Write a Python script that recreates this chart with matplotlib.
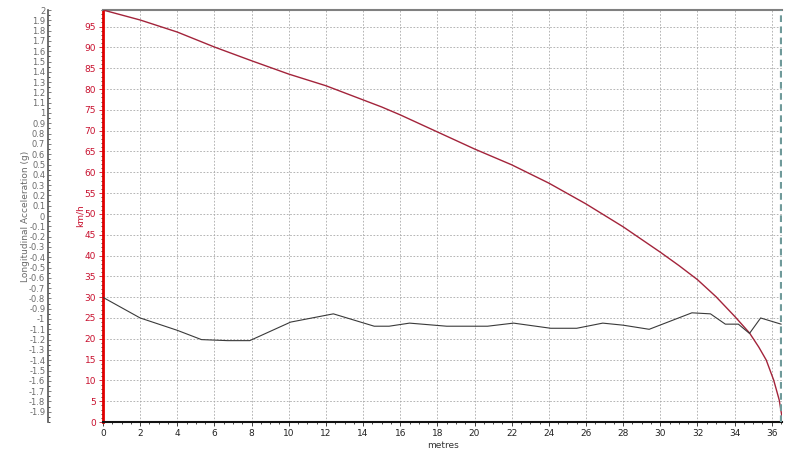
import matplotlib.pyplot as plt
from matplotlib.ticker import MultipleLocator

# --- Data ---
speed_x = [0, 2, 4, 6, 8, 10, 12, 14, 15, 16, 18, 20, 22, 24, 26, 28, 30, 31, 32,
           33, 34, 34.8, 35.3, 35.7, 36.1, 36.4, 36.55]
speed_kmh = [99, 96.6, 93.7, 90.1, 86.8, 83.6, 80.8, 77.4, 75.7, 73.8, 69.7, 65.6, 61.8,
             57.4, 52.4, 46.9, 40.8, 37.6, 34.2, 30.1, 25.4, 21.4, 18.0, 14.9, 10.1, 5.3, 1.2]

acc_x = [0, 2, 4, 5.3, 6.7, 7.9, 10.1, 12.4, 14.6, 15.4, 16.5, 18.5, 20.7, 22.1, 24.1,
         25.5, 26.9, 28.0, 29.4, 31.7, 32.7, 33.5, 34.2, 34.8, 35.4, 36.5]
acc_g = [-0.79, -0.99, -1.11, -1.20, -1.21, -1.21, -1.03, -0.95, -1.07, -1.07, -1.04,
         -1.07, -1.07, -1.04, -1.09, -1.09, -1.04, -1.06, -1.10, -0.94, -0.95, -1.05,
         -1.05, -1.14, -0.99, -1.05]

X_MAX = 36.55
RED = '#c8102e'
TICK_GREY = '#6a6a6a'

fig = plt.figure(figsize=(8, 4.5), dpi=100)
ax = fig.add_axes([103 / 800, 1 - 422 / 450, (782 - 103) / 800, (422 - 10) / 450])

# speed curve on the km/h axis
ax.plot(speed_x, speed_kmh, color='#a3243b', linewidth=1.0, zorder=4)
ax.set_xlim(0, X_MAX)
ax.set_ylim(0, 99)

ax.xaxis.set_major_locator(MultipleLocator(2))
ax.xaxis.set_minor_locator(MultipleLocator(0.5))
ax.yaxis.set_minor_locator(MultipleLocator(1))
ax.set_yticks(range(0, 100, 5))
ax.tick_params(axis='both', which='major', labelsize=6.5, length=3, width=0.6, pad=2)
ax.tick_params(axis='both', which='minor', length=1.5, width=0.5)
ax.tick_params(axis='y', colors=RED, labelcolor=RED)
ax.tick_params(axis='x', colors='#222222', labelcolor='#222222')

ax.grid(True, which='major', color='#a8a8a8', linestyle=(0, (2, 2)), linewidth=0.6)

ax.spines['left'].set_color('#e00000')
ax.spines['left'].set_linewidth(2)
ax.spines['bottom'].set_color('#111111')
ax.spines['bottom'].set_linewidth(1.5)
ax.spines['top'].set_color('#808080')
ax.spines['top'].set_linewidth(1.5)
ax.spines['right'].set_visible(False)
ax.axvline(X_MAX - 0.03, color='#6f9a9a', linestyle=(0, (3, 2)), linewidth=1.6, zorder=5)

ax.set_xlabel('metres', fontsize=6.5, color='#333333', labelpad=2)
ax.set_ylabel('km/h', fontsize=6.5, color=RED)
ax.yaxis.set_label_coords(-0.027, 0.5)

# acceleration axis, further left (55 px = 39.6 pt at 100 dpi)
ax2 = ax.twinx()
ax2.spines['left'].set_position(('outward', 55 * 72 / 100))
ax2.spines['left'].set_visible(True)
ax2.spines['left'].set_color('#555555')
ax2.spines['left'].set_linewidth(1.2)
for s in ('right', 'top', 'bottom'):
    ax2.spines[s].set_visible(False)
ax2.yaxis.set_ticks_position('left')
ax2.yaxis.set_label_position('left')
ax2.plot(acc_x, acc_g, color='#3a3a3a', linewidth=0.8, zorder=3)
ax2.set_ylim(-2, 2)
ax2.set_xlim(0, X_MAX)
ticks = [round(-1.9 + 0.1 * i, 1) for i in range(40)]
ax2.set_yticks(ticks)
ax2.set_yticklabels(['0' if t == 0 else f'{t:g}' for t in ticks])
ax2.yaxis.set_minor_locator(MultipleLocator(0.05))
ax2.tick_params(axis='y', which='major', labelsize=6, length=2.5, width=0.6, pad=2,
                colors=TICK_GREY, direction='in')
ax2.tick_params(axis='y', which='minor', length=1.2, width=0.5, direction='in')
ax2.set_ylabel('Longitudinal Acceleration (g)', fontsize=6.5, color=TICK_GREY)
ax2.yaxis.set_label_coords(-0.107, 0.5)

fig.savefig('out.png', dpi=100)
